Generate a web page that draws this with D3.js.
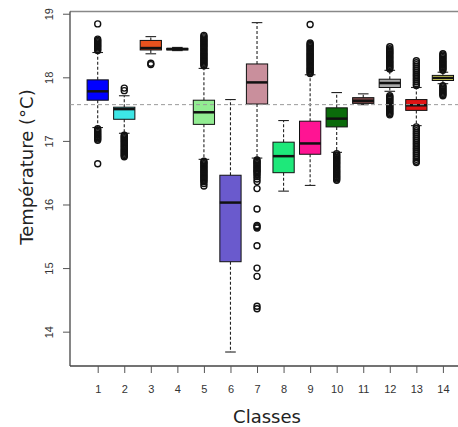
<!DOCTYPE html>
<html>
<head>
<meta charset="utf-8">
<script src="https://cdn.jsdelivr.net/npm/d3@7"></script>
<style>
  html, body { margin: 0; padding: 0; background: #fff; }
  svg { display: block; }
</style>
</head>
<body>
<svg id="chart" width="458" height="427"></svg>
<script>
// Temperature distribution per class
const classes = [1, 2, 3, 4, 5, 6, 7, 8, 9, 10, 11, 12, 13, 14];
const lowerWhisker = [17.21, 17.12, 18.37, 18.42, 16.71, 13.68, 16.73, 16.21, 16.30, 16.82, 17.57, 17.78, 17.24, 17.90];
const q1           = [17.64, 17.34, 18.43, 18.43, 17.26, 15.10, 17.58, 16.50, 16.79, 17.22, 17.59, 17.84, 17.48, 17.95];
const median       = [17.78, 17.50, 18.46, 18.445, 17.45, 16.03, 17.92, 16.76, 16.96, 17.35, 17.63, 17.91, 17.56, 17.99];
const q3           = [17.96, 17.53, 18.58, 18.455, 17.64, 16.46, 18.21, 16.98, 17.31, 17.52, 17.68, 17.97, 17.65, 18.03];
const upperWhisker = [18.39, 17.71, 18.64, 18.47, 18.14, 17.65, 18.86, 17.32, 18.04, 17.76, 17.74, 18.11, 17.84, 18.08];
const outliers = [
  [18.84, 18.60, 18.58, 18.56, 18.54, 18.52, 18.50, 18.48, 18.46, 18.44, 18.42,
   17.19, 17.17, 17.15, 17.13, 17.11, 17.09, 17.07, 17.05, 17.03, 17.01, 16.64],
  [17.83, 17.79,
   17.09, 17.07, 17.05, 17.03, 17.01, 16.99, 16.97, 16.95, 16.93, 16.91, 16.89,
   16.87, 16.85, 16.83, 16.81, 16.79, 16.77, 16.75],
  [18.22, 18.20],
  [],
  [18.66, 18.64, 18.62, 18.60, 18.58, 18.56, 18.54, 18.52, 18.50, 18.48, 18.46, 18.44,
   18.42, 18.40, 18.38, 18.36, 18.34, 18.32, 18.30, 18.28, 18.26, 18.24, 18.22, 18.20, 18.18,
   16.68, 16.66, 16.64, 16.62, 16.60, 16.58, 16.56, 16.54, 16.52, 16.50, 16.48, 16.46,
   16.44, 16.42, 16.40, 16.38, 16.36, 16.33, 16.29],
  [],
  [16.70, 16.68, 16.66, 16.64, 16.62, 16.60, 16.58, 16.56, 16.54, 16.52, 16.50, 16.47,
   16.44, 16.40, 16.36, 16.25, 15.93, 15.67, 15.65, 15.63, 15.35, 15.00, 14.87, 14.40, 14.36],
  [],
  [18.83, 18.54, 18.52, 18.50, 18.48, 18.46, 18.44, 18.42, 18.40, 18.38, 18.36, 18.34,
   18.32, 18.30, 18.28, 18.26, 18.24, 18.22, 18.20, 18.18, 18.16, 18.14, 18.12, 18.10, 18.08, 18.06],
  [16.80, 16.78, 16.76, 16.74, 16.72, 16.70, 16.68, 16.66, 16.64, 16.62, 16.60, 16.58,
   16.56, 16.54, 16.52, 16.50, 16.48, 16.46, 16.44, 16.42, 16.40, 16.38],
  [],
  [18.48, 18.45, 18.43, 18.41, 18.39, 18.37, 18.35, 18.33, 18.31, 18.29, 18.27, 18.25,
   18.23, 18.21, 18.19, 18.17, 18.15, 18.13,
   17.71, 17.69, 17.67, 17.65, 17.63, 17.61, 17.59, 17.57, 17.55, 17.53, 17.51, 17.49,
   17.47, 17.45, 17.43, 17.41],
  [18.26, 18.23, 18.20, 18.17, 18.14, 18.11, 18.08, 18.05, 18.02, 17.99, 17.96, 17.93,
   17.90, 17.87,
   17.22, 17.19, 17.16, 17.13, 17.10, 17.07, 17.04, 17.01, 16.98, 16.95, 16.92, 16.89,
   16.86, 16.83, 16.80, 16.77, 16.74, 16.71, 16.68, 16.66],
  [18.37, 18.35, 18.33, 18.31, 18.29, 18.27, 18.25, 18.23, 18.21, 18.19, 18.17, 18.15,
   18.13, 18.11,
   17.87, 17.85, 17.83, 17.81, 17.79, 17.77, 17.75, 17.73, 17.71]
];
const boxColors = ["#0000ff", "#3de6e6", "#e8521e", "#6e6e6e", "#92ec92", "#6a5acd", "#c98f9c",
                   "#1ee87a", "#ff1493", "#0b6b0b", "#7a4646", "#a9a9a9", "#e01414", "#e0e060"];
const yTicks = [14, 15, 16, 17, 18, 19];
const refTemperature = 17.57;
const xTitle = "Classes";
const yTitle = "Température (°C)";

const svg = d3.select("#chart");
const plotLeft = 70, plotTop = 11.5, plotBottom = 366, plotRight = 460;

const x = d3.scaleLinear().domain([1, 14]).range([97.7, 442.9]);
const y = d3.scaleLinear().domain([13.46, 19.035]).range([plotBottom, plotTop]);
const step = x(2) - x(1);
const boxW = step * 0.8;
const capW = boxW * 0.5;

// Frame around the plotting region
const frame = svg.append("g").attr("stroke", "#444").attr("stroke-width", 1.3).attr("fill", "none");
frame.append("line").attr("x1", plotLeft).attr("x2", plotRight).attr("y1", plotTop).attr("y2", plotTop).attr("stroke", "#888");
frame.append("line").attr("x1", plotLeft).attr("x2", plotLeft).attr("y1", plotTop).attr("y2", plotBottom);
frame.append("line").attr("x1", plotLeft).attr("x2", plotRight).attr("y1", plotBottom).attr("y2", plotBottom);

// Y axis, labels turned parallel to the axis
const yAxis = svg.append("g")
  .attr("transform", `translate(${plotLeft},0)`)
  .call(d3.axisLeft(y).tickValues(yTicks).tickSize(7).tickFormat(d3.format("d")));
yAxis.select(".domain").remove();
yAxis.selectAll(".tick line").attr("stroke", "#555");
yAxis.selectAll(".tick text")
  .attr("transform", "rotate(-90)")
  .attr("x", 0)
  .attr("y", -17)
  .attr("dy", 0)
  .attr("text-anchor", "middle")
  .attr("font-family", "Liberation Sans, Arial, sans-serif")
  .attr("font-size", 11)
  .attr("fill", "#333");

// X axis
const xAxis = svg.append("g")
  .attr("transform", `translate(0,${plotBottom})`)
  .call(d3.axisBottom(x).tickValues(classes).tickSize(7).tickPadding(12).tickFormat(d3.format("d")));
xAxis.select(".domain").remove();
xAxis.selectAll(".tick line").attr("stroke", "#555");
xAxis.selectAll(".tick text")
  .attr("font-family", "Liberation Sans, Arial, sans-serif")
  .attr("font-size", 11)
  .attr("fill", "#333");

// Axis titles
svg.append("text")
  .attr("x", 267).attr("y", 423)
  .attr("text-anchor", "middle")
  .attr("font-family", "DejaVu Sans, sans-serif")
  .attr("font-size", 18)
  .attr("fill", "#222")
  .text(xTitle);
svg.append("text")
  .attr("transform", "translate(33,167) rotate(-90)")
  .attr("text-anchor", "middle")
  .attr("font-family", "DejaVu Sans, sans-serif")
  .attr("font-size", 18)
  .attr("fill", "#222")
  .text(yTitle);

// Box plots
const groups = svg.append("g").selectAll("g.box")
  .data(classes.map((c, i) => ({
    c, lo: lowerWhisker[i], q1: q1[i], med: median[i], q3: q3[i], hi: upperWhisker[i],
    out: outliers[i], color: boxColors[i]
  })))
  .join("g").attr("class", "box");

// whiskers
groups.append("line")
  .attr("x1", d => x(d.c)).attr("x2", d => x(d.c))
  .attr("y1", d => y(d.q3)).attr("y2", d => y(d.hi))
  .attr("stroke", "#222").attr("stroke-width", 1.1).attr("stroke-dasharray", "3,2");
groups.append("line")
  .attr("x1", d => x(d.c)).attr("x2", d => x(d.c))
  .attr("y1", d => y(d.q1)).attr("y2", d => y(d.lo))
  .attr("stroke", "#222").attr("stroke-width", 1.1).attr("stroke-dasharray", "3,2");
// staples
groups.append("line")
  .attr("x1", d => x(d.c) - capW / 2).attr("x2", d => x(d.c) + capW / 2)
  .attr("y1", d => y(d.hi)).attr("y2", d => y(d.hi))
  .attr("stroke", "#222").attr("stroke-width", 1.1);
groups.append("line")
  .attr("x1", d => x(d.c) - capW / 2).attr("x2", d => x(d.c) + capW / 2)
  .attr("y1", d => y(d.lo)).attr("y2", d => y(d.lo))
  .attr("stroke", "#222").attr("stroke-width", 1.1);
// boxes
groups.append("rect")
  .attr("x", d => x(d.c) - boxW / 2)
  .attr("width", boxW)
  .attr("y", d => y(d.q3))
  .attr("height", d => Math.max(1, y(d.q1) - y(d.q3)))
  .attr("fill", d => d.color)
  .attr("stroke", "#111").attr("stroke-width", 1);
// medians
groups.append("line")
  .attr("x1", d => x(d.c) - boxW / 2).attr("x2", d => x(d.c) + boxW / 2)
  .attr("y1", d => y(d.med)).attr("y2", d => y(d.med))
  .attr("stroke", "#111").attr("stroke-width", 2.5);
// outliers
groups.selectAll("circle")
  .data(d => d.out.map(v => ({ c: d.c, v })))
  .join("circle")
  .attr("cx", d => x(d.c)).attr("cy", d => y(d.v))
  .attr("r", 3)
  .attr("fill", "none").attr("stroke", "#111").attr("stroke-width", 1.4);

// Reference temperature
svg.append("line")
  .attr("x1", plotLeft).attr("x2", plotRight)
  .attr("y1", y(refTemperature)).attr("y2", y(refTemperature))
  .attr("stroke", "#999").attr("stroke-width", 1).attr("stroke-dasharray", "4,3");
</script>
</body>
</html>
